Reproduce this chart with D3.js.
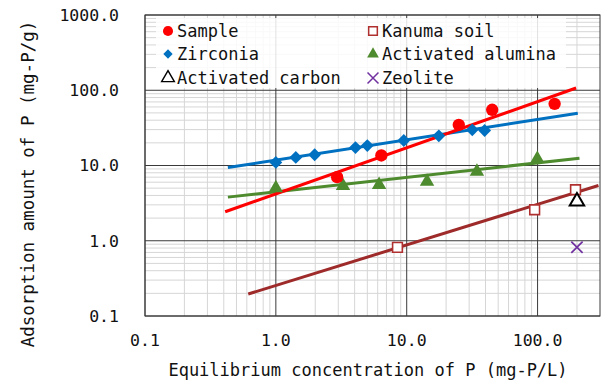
<!DOCTYPE html>
<html><head><meta charset="utf-8">
<script src="https://cdn.jsdelivr.net/npm/d3@7"></script>
<style>body{margin:0;background:#fff}svg{display:block}text{font-family:"DejaVu Sans Mono",monospace;fill:#111}</style>
</head><body><svg id="c" width="608" height="382"></svg>
<script>
// ---- data ----
const xTicks = [0.1, 1, 10, 100];
const xTickLabels = ["0.1", "1.0", "10.0", "100.0"];
const yTicks = [0.1, 1, 10, 100, 1000];
const yTickLabels = ["0.1", "1.0", "10.0", "100.0", "1000.0"];

const sampleC = [2.94, 6.4, 25, 45, 135];
const sampleQ = [7.0, 13.6, 34.7, 55, 66];
const zirconiaC = [1.0, 1.42, 1.98, 4.06, 5.0, 9.5, 17.6, 31.7, 39.4];
const zirconiaQ = [11.0, 12.8, 13.9, 17.3, 18.4, 21.5, 24.8, 29.8, 29.2];
const aluminaC = [1.0, 3.26, 6.15, 14.3, 34.4, 99.5];
const aluminaQ = [5.0, 5.37, 5.54, 6.13, 8.3, 12.3];
const kanumaC = [8.5, 95, 195];
const kanumaQ = [0.815, 2.58, 4.76];
const carbonC = [200];
const carbonQ = [3.33];
const zeoliteC = [200];
const zeoliteQ = [0.82];

// fitted trend lines (end points)
const sampleFitC = [0.41, 197];
const sampleFitQ = [2.43, 107];
const zirconiaFitC = [0.43, 203];
const zirconiaFitQ = [9.4, 49.6];
const aluminaFitC = [0.43, 209];
const aluminaFitQ = [3.8, 12.5];
const kanumaFitC = [0.615, 292];
const kanumaFitQ = [0.196, 5.42];

const legendLabels = ["Sample", "Kanuma soil", "Zirconia", "Activated alumina", "Activated carbon", "Zeolite"];

// ---- layout ----
const svg = d3.select("#c");
const L = 145, R = 600, T = 15, B = 316;
const x = d3.scaleLog().domain([0.1, 300]).range([L, R]);
const y = d3.scaleLog().domain([0.1, 1000]).range([B, T]);

const col = {red: "#ff0000", blue: "#0070c0", green: "#4e8a2e", brown: "#9e2a2a", purple: "#7030a0"};

// minor grid
const g = svg.append("g");
const minorX = [], minorY = [];
for (let d = 0.1; d < 300; d *= 10) for (let k = 2; k <= 9; k++) { const v = d * k; if (v < 300) minorX.push(v); }
for (let d = 0.1; d < 1000; d *= 10) for (let k = 2; k <= 9; k++) minorY.push(d * k);
g.selectAll(".mx").data(minorX).join("line").attr("x1", d => x(d)).attr("x2", d => x(d)).attr("y1", T).attr("y2", B).attr("stroke", "#d6d6d6").attr("stroke-width", 1);
g.selectAll(".my").data(minorY).join("line").attr("x1", L).attr("x2", R).attr("y1", d => y(d)).attr("y2", d => y(d)).attr("stroke", "#d6d6d6").attr("stroke-width", 1);
// major grid
g.selectAll(".Mx").data(xTicks).join("line").attr("x1", d => x(d)).attr("x2", d => x(d)).attr("y1", T).attr("y2", B).attr("stroke", "#3a3a3a").attr("stroke-width", 1);
g.selectAll(".My").data(yTicks).join("line").attr("x1", L).attr("x2", R).attr("y1", d => y(d)).attr("y2", d => y(d)).attr("stroke", "#3a3a3a").attr("stroke-width", 1);

// legend background
svg.append("rect").attr("x", 156).attr("y", 18).attr("width", 410).attr("height", 70).attr("fill", "#fff").attr("opacity", 0.85);

// frame
svg.append("rect").attr("x", L).attr("y", T).attr("width", R - L).attr("height", B - T).attr("fill", "none").attr("stroke", "#3a3a3a").attr("stroke-width", 1);

// axis labels
svg.selectAll(".xt").data(xTicks).join("text").attr("x", d => x(d)).attr("y", 340).attr("dy", "0.35em").attr("text-anchor", "middle").style("font-size", "16.5px").text((d, i) => xTickLabels[i]);
svg.selectAll(".yt").data(yTicks).join("text").attr("x", 119).attr("y", d => y(d)).attr("dy", "0.35em").attr("text-anchor", "end").style("font-size", "16.5px").text((d, i) => yTickLabels[i]);
svg.append("text").attr("x", 368).attr("y", 370).attr("dy", "0.35em").attr("text-anchor", "middle").style("font-size", "17px").text("Equilibrium concentration of P (mg-P/L)");
svg.append("text").attr("transform", "translate(28,184) rotate(-90)").attr("dy", "0.35em").attr("text-anchor", "middle").style("font-size", "17.5px").text("Adsorption amount of P (mg-P/g)");

// trend lines
const line = d3.line().x(d => x(d[0])).y(d => y(d[1]));
function fit(cs, qs, c) {
  svg.append("path").attr("d", line(cs.map((v, i) => [v, qs[i]]))).attr("fill", "none").attr("stroke", c).attr("stroke-width", 3);
}
fit(kanumaFitC, kanumaFitQ, col.brown);
fit(aluminaFitC, aluminaFitQ, col.green);
fit(zirconiaFitC, zirconiaFitQ, col.blue);
fit(sampleFitC, sampleFitQ, col.red);

// markers
const sym = {
  circle: d3.symbol().type(d3.symbolCircle).size(120),
  diamond: d3.symbol().type(d3.symbolDiamond2).size(105),
  triangle: d3.symbol().type(d3.symbolTriangle).size(90),
  square: d3.symbol().type(d3.symbolSquare).size(95),
  cross: d3.symbol().type(d3.symbolTimes).size(85)
};
function pts(cs, qs, s, fill, stroke, sw) {
  svg.append("g").selectAll("path").data(cs.map((v, i) => [v, qs[i]])).join("path")
    .attr("transform", d => `translate(${x(d[0])},${y(d[1])})`).attr("d", sym[s])
    .attr("fill", fill).attr("stroke", stroke).attr("stroke-width", sw);
}
pts(aluminaC, aluminaQ, "triangle", col.green, "none", 0);
pts(zirconiaC, zirconiaQ, "diamond", col.blue, "none", 0);
pts(kanumaC, kanumaQ, "square", "#fff", "#b03030", 1.6);
pts(carbonC, carbonQ, "triangle", "#fff", "#000", 2);
pts(zeoliteC, zeoliteQ, "cross", "none", col.purple, 1.7);
pts(sampleC, sampleQ, "circle", col.red, "none", 0);

// legend
const legItems = [
  {lab: legendLabels[0], s: "circle", fill: col.red, stroke: "none", sw: 0, x: 168, y: 31, sz: 80},
  {lab: legendLabels[1], s: "square", fill: "#fff", stroke: "#b03030", sw: 1.5, x: 373, y: 31, sz: 75},
  {lab: legendLabels[2], s: "diamond", fill: col.blue, stroke: "none", sw: 0, x: 168, y: 54, sz: 55},
  {lab: legendLabels[3], s: "triangle", fill: col.green, stroke: "none", sw: 0, x: 373, y: 54, sz: 60},
  {lab: legendLabels[4], s: "triangle", fill: "#fff", stroke: "#000", sw: 1.4, x: 168, y: 78, sz: 70},
  {lab: legendLabels[5], s: "cross", fill: "none", stroke: col.purple, sw: 1.5, x: 373, y: 78, sz: 80}
];
const types = {circle: d3.symbolCircle, square: d3.symbolSquare, diamond: d3.symbolDiamond2, triangle: d3.symbolTriangle, cross: d3.symbolTimes};
legItems.forEach(it => {
  svg.append("path").attr("transform", `translate(${it.x},${it.y})`).attr("d", d3.symbol().type(types[it.s]).size(it.sz)())
    .attr("fill", it.fill).attr("stroke", it.stroke).attr("stroke-width", it.sw);
  svg.append("text").attr("x", it.x + 9).attr("y", it.y).attr("dy", "0.35em").style("font-size", "17px").text(it.lab);
});
</script></body></html>
